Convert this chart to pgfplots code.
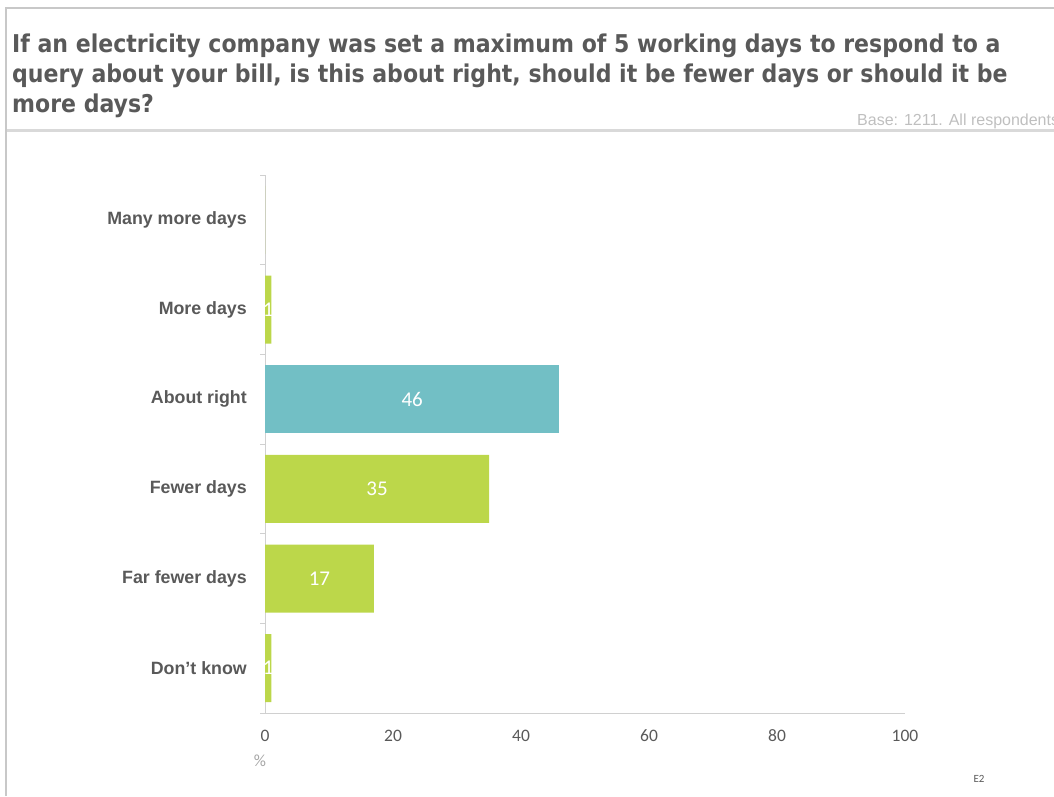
\documentclass[border=0pt]{standalone}
\usepackage{pgfplots}
\pgfplotsset{compat=1.18}
\usepackage{fontspec}
\setmainfont{Liberation Sans}
\newfontfamily\titlefont[BoldFont={DejaVu Sans Condensed Bold}]{DejaVu Sans Condensed}
\newfontfamily\calib{Carlito}
\definecolor{txtgray}{HTML}{595959}
\definecolor{ltgray}{HTML}{A6A6A6}
\definecolor{basegray}{HTML}{BFBFBF}
\definecolor{framegray}{HTML}{C8C8C8}
\definecolor{sepgray}{HTML}{D9D9D9}
\definecolor{axgray}{HTML}{D0D0D0}
\definecolor{bargreen}{HTML}{BCD74A}
\definecolor{barteal}{HTML}{72BFC5}
\begin{document}
\begin{tikzpicture}
\path[use as bounding box] (0,0) rectangle (1054pt,796pt);
% frame
\draw[framegray, line width=2pt] (5pt,788pt) -- (1054pt,788pt);
\draw[framegray, line width=2pt] (6pt,0pt) -- (6pt,789pt);
\draw[sepgray, line width=3pt] (7pt,665pt) -- (1054pt,665pt);
% title
\node[anchor=base west, inner sep=0pt, text=txtgray, font=\titlefont\bfseries\fontsize{24.5}{28}\selectfont] at (12pt,743pt) {If an electricity company was set a maximum of 5 working days to respond to a};
\node[anchor=base west, inner sep=0pt, text=txtgray, font=\titlefont\bfseries\fontsize{24.5}{28}\selectfont] at (12pt,713pt) {query about your bill, is this about right, should it be fewer days or should it be};
\node[anchor=base west, inner sep=0pt, text=txtgray, font=\titlefont\bfseries\fontsize{24.5}{28}\selectfont] at (12pt,683pt) {more days?};
\node[anchor=base west, inner sep=0pt, text=basegray, font=\fontsize{16}{18}\selectfont] at (857pt,670pt) {Base: 1211. All respondents};
\node[anchor=center, inner sep=0pt, text=ltgray, font=\calib\fontsize{17}{20}\selectfont] at (260pt,35pt) {\%};
\node[anchor=center, inner sep=0pt, text=txtgray, font=\calib\fontsize{11}{13}\selectfont] at (979pt,17pt) {E2};
\begin{axis}[
  at={(265pt,83pt)}, anchor=south west,
  scale only axis, width=640pt, height=538pt,
  xmin=0, xmax=100, ymin=-0.5, ymax=5.5,
  xbar, bar width=68pt, bar shift=0pt,
  axis x line*=bottom, axis y line*=left,
  axis line style={axgray, line width=1pt},
  xtick={0,20,40,60,80,100},
  ytick={0,1,2,3,4,5},
  yticklabels={Don’t know, Far fewer days, Fewer days, About right, More days, Many more days},
  minor ytick={-0.5,0.5,1.5,2.5,3.5,4.5,5.5},
  major tick length=0pt, minor tick length=5pt,
  tick align=outside,
  minor tick style={axgray, line width=1pt},
  /pgf/number format/assume math mode=true,
  x tick label style={font=\calib\fontsize{17.5}{20}\selectfont, text=txtgray, inner sep=0pt, text height=12pt, text depth=0pt, yshift=-16.5pt},
  y tick label style={font=\bfseries\fontsize{17.8}{20}\selectfont, text=txtgray, inner sep=0pt, xshift=-18pt},
  visualization depends on={rawx \as \rawx},
  nodes near coords={\ifdim\rawx pt>0.5pt\pgfmathprintnumber{\rawx}\fi},
  every node near coord/.append style={anchor=center, xshift={-\rawx*3.2pt}, font=\calib\fontsize{21}{24}\selectfont, text=white, inner sep=0pt},
  clip=false,
]
\addplot[fill=bargreen, draw=none] coordinates {(1,0) (17,1) (35,2) (1,4) (0,5)};
\addplot[fill=barteal, draw=none] coordinates {(46,3)};
\end{axis}
\end{tikzpicture}
\end{document}
